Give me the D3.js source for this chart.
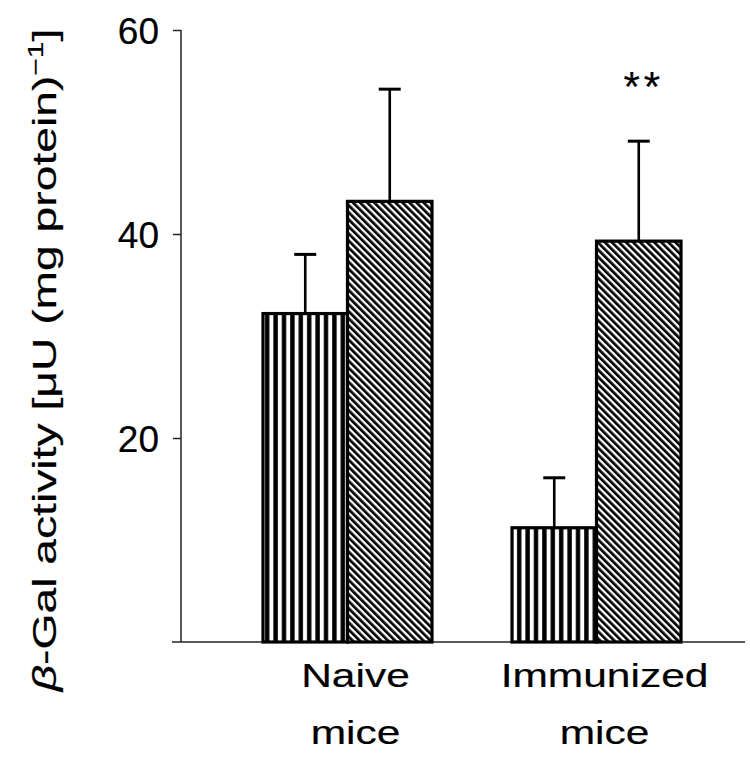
<!DOCTYPE html>
<html>
<head>
<meta charset="utf-8">
<script src="https://cdn.jsdelivr.net/npm/d3@7"></script>
<style>
  html, body { margin: 0; padding: 0; background: #fff; }
  svg text { font-family: "Liberation Sans", Arial, Helvetica, sans-serif; fill: #000; stroke: #000; stroke-width: 0.2px; }
</style>
</head>
<body>
<svg id="chart" width="750" height="765"></svg>
<script>
// ---- data ----
const groups = ["Naive mice", "Immunized mice"];
const groupLines = [["Naive", "mice"], ["Immunized", "mice"]];
const series = ["vertical", "hatched"];
const meanValues = [[32.2, 43.2], [11.2, 39.3]];
const errorValues = [[5.8, 11.0], [4.9, 9.8]];
const yTicks = [20, 40, 60];
const significance = [["", ""], ["", "**"]];

// ---- layout ----
const svg = d3.select("#chart");
const y = d3.scaleLinear().domain([0, 60]).range([642, 30]);
const x0 = d3.scaleBand().domain(groups).range([223, 721]).paddingInner(0.3213).paddingOuter(0.1606);
const x1 = d3.scaleBand().domain(series).range([0, x0.bandwidth()]);

// patterns
const defs = svg.append("defs");
const pV = defs.append("pattern").attr("id", "pv").attr("patternUnits", "userSpaceOnUse")
  .attr("width", 8.4).attr("height", 10).attr("x", 263);
pV.append("rect").attr("width", 8.4).attr("height", 10).attr("fill", "#fff");
pV.append("rect").attr("x", 2).attr("width", 4.4).attr("height", 10).attr("fill", "#000");

const pH = defs.append("pattern").attr("id", "ph").attr("patternUnits", "userSpaceOnUse")
  .attr("width", 5).attr("height", 10).attr("patternTransform", "rotate(-45)");
pH.append("rect").attr("width", 5).attr("height", 10).attr("fill", "#fff");
pH.append("rect").attr("x", 0).attr("width", 2.7).attr("height", 10).attr("fill", "#000");

const fills = { vertical: "url(#pv)", hatched: "url(#ph)" };

// axes
const yAxis = d3.axisLeft(y).tickValues(yTicks).tickSize(8).tickPadding(14).tickFormat(d3.format("d"));
const gy = svg.append("g").attr("transform", "translate(181,0)").call(yAxis);
gy.select(".domain").attr("stroke", "#222").attr("stroke-width", 1.5).attr("d", "M0," + y(60) + "V" + y(0));
gy.selectAll(".tick line").attr("stroke", "#222").attr("stroke-width", 1.5);
gy.selectAll(".tick text").attr("font-size", 37).attr("dy", "0.36em")
  .style("font-family", "'Liberation Sans', Arial, sans-serif");

// baseline
svg.append("line").attr("x1", 172).attr("x2", 745).attr("y1", y(0)).attr("y2", y(0))
  .attr("stroke", "#222").attr("stroke-width", 1.5);

// bars
const rows = groups.map((g, gi) => series.map((s, si) => ({
  g, s, v: meanValues[gi][si], e: errorValues[gi][si], sig: significance[gi][si]
}))).flat();

const bx = d => x0(d.g) + x1(d.s);
const cx = d => bx(d) + x1.bandwidth() / 2;

// error bars (behind bars)
const eb = svg.append("g");
eb.selectAll("line.err").data(rows).join("line")
  .attr("x1", cx).attr("x2", cx)
  .attr("y1", d => y(d.v)).attr("y2", d => y(d.v + d.e))
  .attr("stroke", "#000").attr("stroke-width", 2.6);
eb.selectAll("line.cap").data(rows).join("line")
  .attr("x1", d => cx(d) - 11).attr("x2", d => cx(d) + 11)
  .attr("y1", d => y(d.v + d.e)).attr("y2", d => y(d.v + d.e))
  .attr("stroke", "#000").attr("stroke-width", 3);

svg.append("g").selectAll("rect").data(rows).join("rect")
  .attr("x", bx).attr("width", x1.bandwidth())
  .attr("y", d => y(d.v)).attr("height", d => y(0) - y(d.v))
  .attr("fill", d => fills[d.s]).attr("stroke", "#000").attr("stroke-width", 3.2);

// significance
svg.append("g").selectAll("text").data(rows.filter(d => d.sig)).join("text")
  .attr("x", d => cx(d) + 5).attr("y", 101)
  .attr("text-anchor", "middle").attr("font-size", 42).attr("letter-spacing", 4)
  .text(d => d.sig);

// category labels
groups.forEach((g, gi) => {
  const c = x0(g) + x0.bandwidth() / 2 + 8;
  groupLines[gi].forEach((t, li) => {
    svg.append("text")
      .attr("transform", `translate(${c},${687 + li * 57}) scale(1.25,1)`)
      .attr("text-anchor", "middle").attr("font-size", 34).text(t);
  });
});

// y-axis label
const yl = svg.append("text")
  .attr("transform", "translate(56,360) rotate(-90) scale(1.36,1)")
  .attr("text-anchor", "middle").attr("font-size", 34);
yl.append("tspan").attr("font-style", "italic").text("β");
yl.append("tspan").text("-Gal activity [μU (mg protein)");
yl.append("tspan").attr("font-size", 22).attr("dy", -13).text("−1");
yl.append("tspan").attr("dy", 13).text("]");
</script>
</body>
</html>
